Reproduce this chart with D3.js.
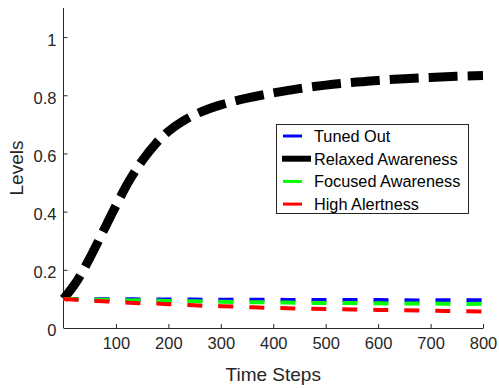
<!DOCTYPE html>
<html>
<head>
<meta charset="utf-8">
<script src="https://cdn.jsdelivr.net/npm/d3@7"></script>
<style>
  body { margin: 0; background: #fff; }
  svg { display: block; font-family: 'Liberation Sans', Arial, sans-serif; }
</style>
</head>
<body>
<div id="chart"></div>
<script>
const steps = [0, 25, 50, 75, 100, 125, 150, 175, 200, 225, 250, 275, 300, 350, 400, 450, 500, 550, 600, 650, 700, 750, 800]

const tunedOut = [0.100, 0.100, 0.099, 0.099, 0.099, 0.099, 0.098, 0.098, 0.098, 0.098, 0.098, 0.097, 0.097, 0.097, 0.097, 0.096, 0.096, 0.096, 0.096, 0.095, 0.095, 0.095, 0.095]
const relaxed = [0.100, 0.160, 0.240, 0.330, 0.420, 0.505, 0.575, 0.632, 0.676, 0.708, 0.733, 0.752, 0.767, 0.790, 0.808, 0.823, 0.835, 0.844, 0.851, 0.857, 0.861, 0.865, 0.868]
const focused = [0.100, 0.099, 0.098, 0.097, 0.096, 0.095, 0.095, 0.094, 0.093, 0.093, 0.092, 0.091, 0.090, 0.089, 0.088, 0.087, 0.086, 0.086, 0.085, 0.084, 0.084, 0.083, 0.083]
const highAlert = [0.100, 0.097, 0.094, 0.092, 0.090, 0.087, 0.085, 0.084, 0.082, 0.080, 0.078, 0.076, 0.075, 0.072, 0.069, 0.067, 0.065, 0.064, 0.062, 0.061, 0.060, 0.058, 0.057]

const seriesNames = ['Tuned Out', 'Relaxed Awareness', 'Focused Awareness', 'High Alertness']
const xTicks = [100, 200, 300, 400, 500, 600, 700, 800]
const yTicks = [0, 0.2, 0.4, 0.6, 0.8, 1]

const width = 499
const height = 388
const margins = { top: 8, right: 16, bottom: 60, left: 63.5 }

let svg = d3.select('#chart').append('svg')
  .attr('width', width)
  .attr('height', height)

let x = d3.scaleLinear().domain([0, 800]).range([margins.left, width - margins.right])
let y = d3.scaleLinear().domain([0, 1.1]).range([height - margins.bottom, margins.top])

const textColor = '#262626'

// axes, MATLAB style: inner ticks, box off
let xAxis = svg.append('g')
  .attr('transform', 'translate(0,' + y(0) + ')')
  .call(d3.axisBottom(x).tickValues(xTicks).tickSizeInner(-4).tickSizeOuter(0).tickPadding(9))
let yAxis = svg.append('g')
  .attr('transform', 'translate(' + x(0) + ',0)')
  .call(d3.axisLeft(y).tickValues(yTicks).tickSizeInner(-4).tickSizeOuter(0).tickPadding(7).tickFormat(d3.format('~g')))

;[xAxis, yAxis].forEach(a => {
  a.select('.domain').attr('stroke', textColor).attr('stroke-width', 1)
  a.selectAll('.tick line').attr('stroke', textColor)
  a.selectAll('.tick text').attr('fill', textColor).style('font-size', '16.5px')
})
yAxis.selectAll('.tick text').attr('dy', '0.48em')
// y axis line runs to the top of the plot
yAxis.select('.domain').attr('d', 'M0,' + y(0) + 'V' + y(1.1))

svg.append('text')
  .attr('x', (x(0) + x(800)) / 2)
  .attr('y', 381)
  .attr('text-anchor', 'middle')
  .attr('fill', textColor)
  .style('font-size', '19px')
  .text('Time Steps')

svg.append('text')
  .attr('transform', 'translate(23,' + (y(0) + y(1.1)) / 2 + ') rotate(-90)')
  .attr('text-anchor', 'middle')
  .attr('fill', textColor)
  .style('font-size', '19px')
  .text('Levels')

let line = d3.line()
  .x((d, i) => x(steps[i]))
  .y(d => y(d))
  .curve(d3.curveCatmullRom)

let series = [
  { name: seriesNames[0], values: tunedOut, color: '#0000ff', width: 4, dash: '15,16' },
  { name: seriesNames[1], values: relaxed, color: '#000000', width: 9, dash: '29,10' },
  { name: seriesNames[2], values: focused, color: '#00ff00', width: 4, dash: '15,16' },
  { name: seriesNames[3], values: highAlert, color: '#ff0000', width: 4, dash: '15,16' },
]

series.forEach(s => {
  svg.append('path')
    .datum(s.values)
    .attr('d', line)
    .attr('fill', 'none')
    .attr('stroke', s.color)
    .attr('stroke-width', s.width)
    .attr('stroke-dasharray', s.dash)
})

// legend
let legend = svg.append('g').attr('class', 'legend')
legend.append('rect')
  .attr('x', 276.5)
  .attr('y', 124.5)
  .attr('width', 192)
  .attr('height', 89)
  .attr('fill', '#fff')
  .attr('stroke', textColor)
  .attr('stroke-width', 1)

series.forEach((s, i) => {
  let cy = 136 + i * 22.7
  legend.append('line')
    .attr('x1', s.width > 5 ? 282 : 283)
    .attr('x2', s.width > 5 ? 311 : 302)
    .attr('y1', cy)
    .attr('y2', cy)
    .attr('stroke', s.color)
    .attr('stroke-width', s.width > 5 ? 6 : 3)
  legend.append('text')
    .attr('x', 314)
    .attr('y', cy)
    .attr('dy', '0.36em')
    .attr('fill', '#000')
    .style('font-size', '16.3px')
    .text(s.name)
})
</script>
</body>
</html>
